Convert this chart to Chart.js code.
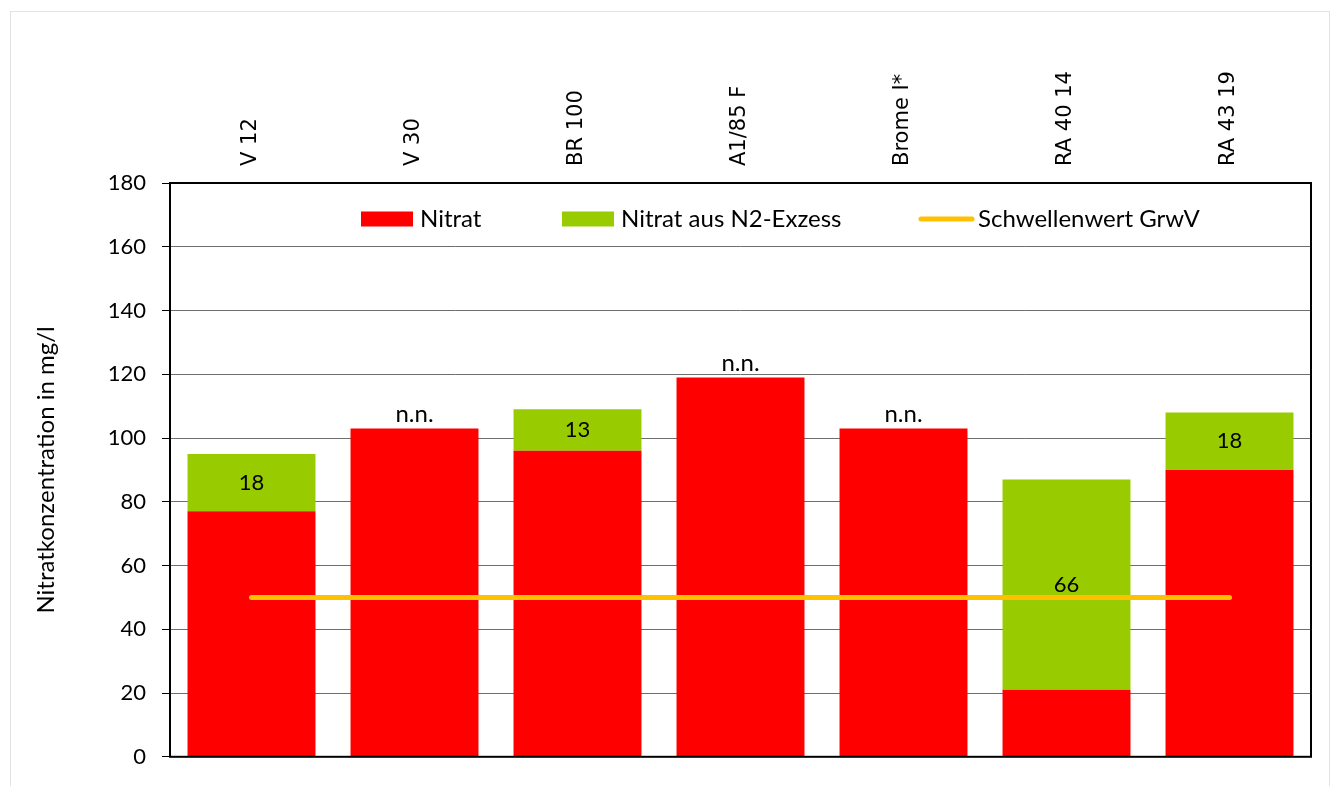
<!DOCTYPE html>
<html>
<head>
<meta charset="utf-8">
<script src="https://cdn.jsdelivr.net/npm/chart.js@4"></script>
<style>
  html,body{margin:0;padding:0;background:#fff;}
  #wrap{position:relative;width:1333px;height:786px;overflow:hidden;}
  #frame{position:absolute;left:10px;top:11px;width:1320px;height:800px;border:1px solid #e3e3e3;box-sizing:border-box;}
  canvas{position:absolute;left:0;top:0;}
</style>
</head>
<body>
<div id="wrap">
  <div id="frame"></div>
  <canvas id="c" width="1333" height="786"></canvas>
</div>
<script>
const categories = ['V 12', 'V 30', 'BR 100', 'A1/85 F', 'Brome I*', 'RA 40 14', 'RA 43 19'];
const nitrat = [77, 103, 96, 119, 103, 21, 90];
const nitratExzess = [18, 0, 13, 0, 0, 66, 18];
const exzessLabels = ['18', 'n.n.', '13', 'n.n.', 'n.n.', '66', '18'];
const schwellenwert = [50, 50, 50, 50, 50, 50, 50];
const yTicks = [0, 20, 40, 60, 80, 100, 120, 140, 160, 180];

const FONT = 'Lato, "Open Sans", sans-serif';
const TEXT_SIZE = 24;
const DIGIT_SIZE = 22;

const framePlugin = {
  id: 'framePlugin',
  afterDraw(chart) {
    const {ctx, chartArea: a} = chart;
    ctx.save();
    ctx.strokeStyle = '#000';
    ctx.lineWidth = 2;
    ctx.strokeRect(a.left, a.top, a.right - a.left, a.bottom - a.top);
    ctx.restore();
  }
};

const labelPlugin = {
  id: 'labelPlugin',
  afterDatasetsDraw(chart) {
    const {ctx} = chart;
    const y = chart.scales.y;
    const metaRed = chart.getDatasetMeta(0);
    ctx.save();
    ctx.fillStyle = '#000';
    ctx.textAlign = 'center';
    exzessLabels.forEach((lab, i) => {
      const x = metaRed.data[i].x;
      if (nitratExzess[i] > 0) {
        const yc = y.getPixelForValue(nitrat[i] + nitratExzess[i] / 2);
        ctx.font = DIGIT_SIZE + 'px ' + FONT;
        ctx.textBaseline = 'middle';
        ctx.fillText(lab, x, yc);
      } else {
        const yt = y.getPixelForValue(nitrat[i]);
        ctx.font = TEXT_SIZE + 'px ' + FONT;
        ctx.textBaseline = 'alphabetic';
        ctx.fillText(lab, x, yt - 6);
      }
    });
    ctx.restore();
  }
};

const legendPlugin = {
  id: 'legendPlugin',
  afterDraw(chart) {
    const {ctx, chartArea: a} = chart;
    const ds = chart.data.datasets;
    const cy = a.top + 36;
    const items = [
      {x: a.left + 191, ds: ds[0], type: 'box'},
      {x: a.left + 392, ds: ds[1], type: 'box'},
      {x: a.left + 749, ds: ds[2], type: 'line'}
    ];
    ctx.save();
    ctx.font = TEXT_SIZE + 'px ' + FONT;
    ctx.textBaseline = 'middle';
    ctx.textAlign = 'left';
    items.forEach(it => {
      if (it.type === 'box') {
        ctx.fillStyle = it.ds.backgroundColor;
        ctx.fillRect(it.x, cy - 7.5, 52, 15);
        ctx.fillStyle = '#000';
        ctx.fillText(it.ds.label, it.x + 59, cy);
      } else {
        ctx.strokeStyle = it.ds.borderColor;
        ctx.lineWidth = 5;
        ctx.lineCap = 'round';
        ctx.beginPath();
        ctx.moveTo(it.x + 2, cy);
        ctx.lineTo(it.x + 53, cy);
        ctx.stroke();
        ctx.fillStyle = '#000';
        ctx.fillText(it.ds.label, it.x + 59, cy);
      }
    });
    ctx.restore();
  }
};

new Chart(document.getElementById('c'), {
  data: {
    labels: categories,
    datasets: [
      {type: 'bar', label: 'Nitrat', data: nitrat, backgroundColor: '#FF0000', borderWidth: 0, stack: 'bars', order: 2},
      {type: 'bar', label: 'Nitrat aus N2-Exzess', data: nitratExzess, backgroundColor: '#99CC00', borderWidth: 0, stack: 'bars', order: 2},
      {type: 'line', label: 'Schwellenwert GrwV', data: schwellenwert, borderColor: '#FFC000', borderWidth: 5,
       borderCapStyle: 'round', pointRadius: 0, fill: false, stack: 'line', order: 1}
    ]
  },
  options: {
    responsive: false,
    animation: false,
    events: [],
    layout: {padding: {left: 0, top: 0, right: 22, bottom: 28}},
    datasets: {bar: {barPercentage: 0.785, categoryPercentage: 1}},
    plugins: {legend: {display: false}, tooltip: {enabled: false}},
    scales: {
      x: {
        position: 'top',
        stacked: true,
        offset: true,
        grid: {display: false, drawTicks: false},
        border: {display: false},
        ticks: {
          maxRotation: 90, minRotation: 90, padding: 17, labelOffset: 24,
          color: '#000',
          font: {family: '"DejaVu Sans", Verdana, sans-serif', size: 21}
        },
        afterFit(s) { s.height = 183; }
      },
      y: {
        stacked: true,
        min: 0, max: 180,
        afterBuildTicks(s) { s.ticks = yTicks.map(v => ({value: v})); },
        grid: {color: '#6e6e6e', lineWidth: 1, tickLength: 8, tickColor: '#000', drawTicks: true},
        border: {display: false},
        ticks: {color: '#000', padding: 16, font: {family: FONT, size: DIGIT_SIZE}},
        title: {display: true, text: 'Nitratkonzentration in mg/l', color: '#000',
                font: {family: FONT, size: TEXT_SIZE}, padding: {top: 32, bottom: 0}},
        afterFit(s) { s.width = 170; }
      }
    }
  },
  plugins: [labelPlugin, legendPlugin, framePlugin]
});
</script>
</body>
</html>
